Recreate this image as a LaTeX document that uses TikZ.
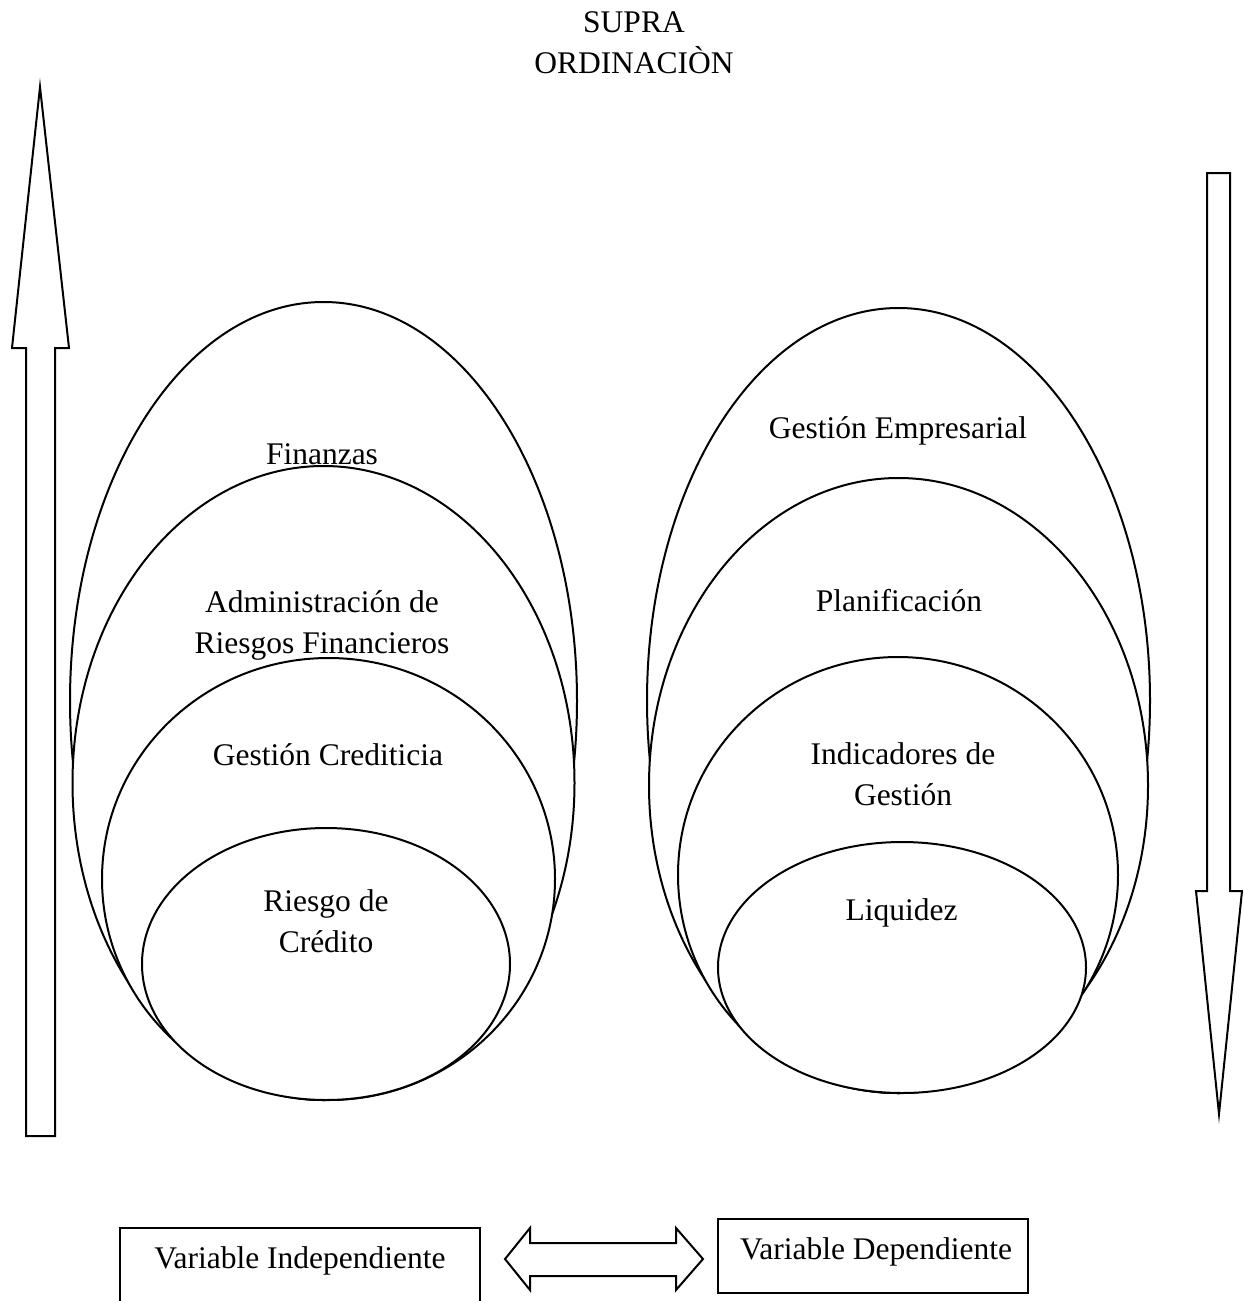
\documentclass[tikz,border=0pt]{standalone}
\usepackage{fontspec}
\setmainfont{Liberation Serif}
\usetikzlibrary{shapes.geometric}
\tikzset{
  ell/.style={ellipse, draw=black, fill=white, line width=1pt, inner sep=0pt},
  txt/.style={font=\fontsize{15.75}{20.5}\selectfont, inner sep=0pt, anchor=base, align=center},
  shp/.style={draw=black, fill=white, line width=1pt, line join=miter},
  boxshape/.style={draw=black, line width=1pt, inner sep=0pt}
}
\begin{document}
\begin{tikzpicture}[x=0.5pt,y=-0.5pt]
\useasboundingbox (0,0) rectangle (1243,1301);
% title (base anchor = last line baseline)
\node[txt] (title) at (634,73) {SUPRA\\ORDINACIÒN};
% vertical arrows
\draw[shp] (26,1136) -- (26,348) -- (12,348) -- (40,87) -- (69,348) -- (55,348) -- (55,1136) -- cycle;
\draw[shp] (1207,173) -- (1230,173) -- (1230,891) -- (1242,891) -- (1219,1114) -- (1196,891) -- (1207,891) -- cycle;
% left ellipses
\node[ell, minimum width=253.5pt, minimum height=399pt] (fin) at (323.5,701) {};
\node[ell, minimum width=251pt, minimum height=317pt] (adm) at (323.5,783) {};
\node[ell, minimum width=226.5pt, minimum height=221pt] (gcr) at (328.5,879) {};
\node[ell, minimum width=184pt, minimum height=136pt] (rcr) at (326,964) {};
% right ellipses
\node[ell, minimum width=251.5pt, minimum height=392.5pt] (gem) at (898.5,700.5) {};
\node[ell, minimum width=249.5pt, minimum height=307.5pt] (pla) at (898.5,785.5) {};
\node[ell, minimum width=220pt, minimum height=218pt] (ind) at (898,875) {};
\node[ell, minimum width=184pt, minimum height=125.5pt] (liq) at (902,967.5) {};
% labels
\node[txt] (tfin) at (322,464) {Finanzas};
\node[txt] (tadm) at (322,653) {Administración de\\Riesgos Financieros};
\node[txt] (tgcr) at (328,765) {Gestión Crediticia};
\node[txt] (trcr) at (326,952) {Riesgo de\\Crédito};
\node[txt] (tgem) at (898,438) {Gestión Empresarial};
\node[txt] (tpla) at (899,611) {Planificación};
\node[txt] (tind) at (903,805) {Indicadores de\\Gestión};
\node[txt] (tliq) at (901.5,920) {Liquidez};
% bottom boxes
\node[inner sep=0pt, minimum width=180pt, minimum height=40pt] (vi) at (300,1268) {};
\draw[line width=1pt] (vi.south west) |- (vi.north east) -- (vi.south east);
\node[boxshape, minimum width=155pt, minimum height=37pt] (vd) at (873,1256) {};
\node[txt] (tvi) at (300,1268) {Variable Independiente};
\node[txt] (tvd) at (876,1259) {Variable Dependiente};
% double arrow between boxes
\draw[shp] (505,1259) -- (530,1228) -- (530,1243) -- (676,1243) -- (676,1228) -- (703,1259) -- (676,1290) -- (676,1276) -- (530,1276) -- (530,1290) -- cycle;
\end{tikzpicture}
\end{document}
